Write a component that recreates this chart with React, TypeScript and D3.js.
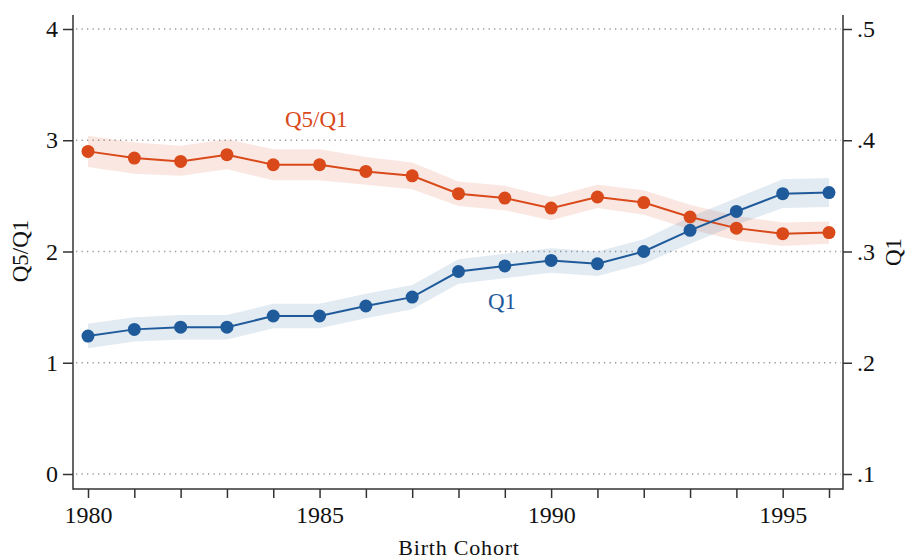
import * as d3 from 'd3';
import { useRef, useEffect } from "react"

// birth cohorts
const years = [1980, 1981, 1982, 1983, 1984, 1985, 1986, 1987, 1988, 1989, 1990, 1991, 1992, 1993, 1994, 1995, 1996]

// Q5/Q1 ratio (left axis) with confidence band
const ratio = [2.90, 2.84, 2.81, 2.87, 2.78, 2.78, 2.72, 2.68, 2.52, 2.48, 2.39, 2.49, 2.44, 2.31, 2.21, 2.16, 2.17]
const ratioLo = [2.76, 2.70, 2.68, 2.74, 2.64, 2.64, 2.60, 2.56, 2.41, 2.37, 2.28, 2.39, 2.33, 2.20, 2.10, 2.05, 2.07]
const ratioHi = [3.04, 2.98, 2.95, 3.01, 2.92, 2.92, 2.85, 2.80, 2.63, 2.59, 2.49, 2.60, 2.55, 2.42, 2.32, 2.26, 2.27]

// Q1 share (right axis) with confidence band
const q1 = [0.224, 0.230, 0.232, 0.232, 0.242, 0.242, 0.251, 0.259, 0.282, 0.287, 0.292, 0.289, 0.300, 0.319, 0.336, 0.352, 0.353]
const q1Lo = [0.213, 0.219, 0.221, 0.221, 0.231, 0.231, 0.240, 0.248, 0.271, 0.276, 0.281, 0.278, 0.289, 0.307, 0.324, 0.339, 0.340]
const q1Hi = [0.235, 0.241, 0.243, 0.243, 0.253, 0.253, 0.262, 0.270, 0.293, 0.298, 0.303, 0.300, 0.311, 0.331, 0.348, 0.365, 0.366]

const xTicks = [1980, 1985, 1990, 1995]
const leftTicks = [0, 1, 2, 3, 4]
const rightTicks = [0.1, 0.2, 0.3, 0.4, 0.5]
const rightLabels = [".1", ".2", ".3", ".4", ".5"]

const ORANGE = "#d9491a"
const BLUE = "#1f5b9b"
const FONT = "'Liberation Serif', serif"

function App() {
    const ref = useRef<SVGSVGElement | null>(null)

    useEffect(() => {
        document.body.style.margin = "0"
        renderChart();
    }, [])

    function renderChart() {
        const svg = d3.select(ref.current!)
        svg.selectAll("*").remove()

        const left = 73, right = 843, top = 15, bottom = 489

        const x = d3.scaleLinear().domain([1980, 1996]).range([88, 829])
        const yL = d3.scaleLinear().domain([0, 4]).range([474, 29])
        const yR = d3.scaleLinear().domain([0.1, 0.5]).range([474, 29])

        // dotted grid lines
        svg.append("g")
            .selectAll("line")
            .data(leftTicks)
            .enter()
            .append("line")
            .attr("x1", left + 3)
            .attr("x2", right - 2)
            .attr("y1", d => yL(d))
            .attr("y2", d => yL(d))
            .attr("stroke", "#9a9a9a")
            .attr("stroke-width", 1.3)
            .attr("stroke-dasharray", "1.3,4.2")

        // confidence bands
        const bandR = d3.area<number>()
            .x((_, i) => x(years[i]))
            .y0((_, i) => yL(ratioLo[i]))
            .y1((_, i) => yL(ratioHi[i]))
        const bandQ = d3.area<number>()
            .x((_, i) => x(years[i]))
            .y0((_, i) => yR(q1Lo[i]))
            .y1((_, i) => yR(q1Hi[i]))

        svg.append("path").datum(ratio).attr("d", bandR).attr("fill", ORANGE).attr("fill-opacity", 0.13)
        svg.append("path").datum(q1).attr("d", bandQ).attr("fill", BLUE).attr("fill-opacity", 0.13)

        // lines
        const lineR = d3.line<number>().x((_, i) => x(years[i])).y(d => yL(d))
        const lineQ = d3.line<number>().x((_, i) => x(years[i])).y(d => yR(d))

        svg.append("path").datum(ratio).attr("d", lineR).attr("fill", "none").attr("stroke", ORANGE).attr("stroke-width", 2)
        svg.append("path").datum(q1).attr("d", lineQ).attr("fill", "none").attr("stroke", BLUE).attr("stroke-width", 2)

        // markers
        svg.append("g").selectAll("circle").data(ratio).enter().append("circle")
            .attr("cx", (_, i) => x(years[i]))
            .attr("cy", d => yL(d))
            .attr("r", 6.5)
            .attr("fill", ORANGE)
        svg.append("g").selectAll("circle").data(q1).enter().append("circle")
            .attr("cx", (_, i) => x(years[i]))
            .attr("cy", d => yR(d))
            .attr("r", 6.5)
            .attr("fill", BLUE)

        // axis frame
        const axisColor = "#333"
        svg.append("line").attr("x1", left).attr("x2", left).attr("y1", top).attr("y2", bottom + 0.75)
            .attr("stroke", axisColor).attr("stroke-width", 1.5)
        svg.append("line").attr("x1", right).attr("x2", right).attr("y1", top).attr("y2", bottom + 0.75)
            .attr("stroke", axisColor).attr("stroke-width", 1.5)
        svg.append("line").attr("x1", left).attr("x2", right).attr("y1", bottom).attr("y2", bottom)
            .attr("stroke", axisColor).attr("stroke-width", 1.5)

        // bottom axis: tick every year, labels every five
        const xAxis = svg.append("g").attr("transform", "translate(0," + bottom + ")")
            .call(d3.axisBottom(x).tickValues(years).tickSize(9).tickFormat(d => xTicks.includes(+d) ? String(d) : ""))
        // left axis
        const yAxisL = svg.append("g").attr("transform", "translate(" + left + ",0)")
            .call(d3.axisLeft(yL).tickValues(leftTicks).tickSize(10).tickPadding(5).tickFormat(d => String(d)))
        // right axis
        const yAxisR = svg.append("g").attr("transform", "translate(" + right + ",0)")
            .call(d3.axisRight(yR).tickValues(rightTicks).tickSize(9).tickPadding(5).tickFormat((_, i) => rightLabels[i]))

        ;[xAxis, yAxisL, yAxisR].forEach(g => {
            g.select(".domain").remove()
            g.selectAll("line").attr("stroke", axisColor).attr("stroke-width", 1.5)
            g.selectAll("text").attr("font-family", FONT).attr("font-size", 24).attr("fill", "#111")
        })
        xAxis.selectAll("text").attr("dy", "0.9em")

        // axis titles
        svg.append("text")
            .attr("x", (left + right) / 2 + 1)
            .attr("y", 555)
            .attr("text-anchor", "middle")
            .attr("font-family", FONT)
            .attr("font-size", 22)
            .attr("letter-spacing", 0.8)
            .attr("fill", "#111")
            .text("Birth Cohort")
        svg.append("text")
            .attr("transform", "translate(28,251) rotate(-90)")
            .attr("text-anchor", "middle")
            .attr("font-family", FONT)
            .attr("font-size", 23)
            .attr("fill", "#111")
            .text("Q5/Q1")
        svg.append("text")
            .attr("transform", "translate(901,252) rotate(-90)")
            .attr("text-anchor", "middle")
            .attr("font-family", FONT)
            .attr("font-size", 23)
            .attr("fill", "#111")
            .text("Q1")

        // series labels
        svg.append("text")
            .attr("x", 285)
            .attr("y", 127)
            .attr("font-family", FONT)
            .attr("font-size", 23)
            .attr("fill", ORANGE)
            .text("Q5/Q1")
        svg.append("text")
            .attr("x", 488)
            .attr("y", 309)
            .attr("font-family", FONT)
            .attr("font-size", 23)
            .attr("fill", BLUE)
            .text("Q1")
    }

    return (
        <svg
            width={909}
            height={560}
            ref={ref}
            style={{ display: 'block', background: '#fff' }}
        />
    )
}

export default App;
